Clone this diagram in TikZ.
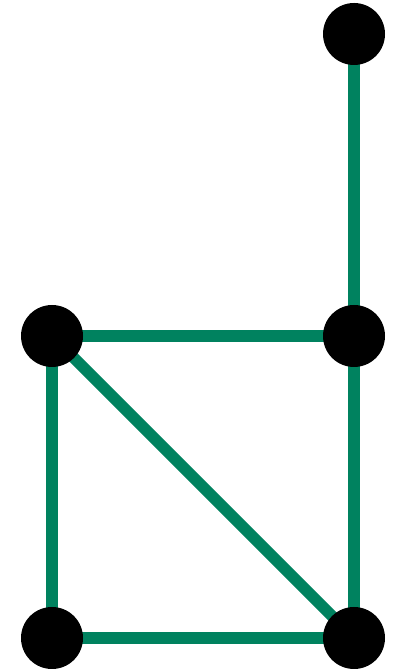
\documentclass[tikz,border=0pt]{standalone}
\usepackage{tikz}
\usepackage{xcolor}
\usetikzlibrary{backgrounds}
\definecolor{edgegreen}{RGB}{0,130,95}

\begin{document}
\begin{tikzpicture}[x=1cm, y=1cm]
\tikzset{
  vertex/.style = {circle, fill=black, inner sep=0pt, minimum size=0.62cm},
  edge/.style   = {edgegreen, line width=0.115cm}
}

% fix the margins
\useasboundingbox (0,0) rectangle (3.98,6.70);

% vertices
\node[vertex] (top) at (3.54, 6.36) {};
\node[vertex] (ul)  at (0.52, 3.34) {};
\node[vertex] (ur)  at (3.54, 3.34) {};
\node[vertex] (ll)  at (0.52, 0.32) {};
\node[vertex] (lr)  at (3.54, 0.32) {};

% edges, behind the vertices
\begin{scope}[on background layer]
\draw[edge] (top.center) -- (ur.center);
\draw[edge] (ul.center) -- (ur.center);
\draw[edge] (ul.center) -- (ll.center);
\draw[edge] (ur.center) -- (lr.center);
\draw[edge] (ll.center) -- (lr.center);
\draw[edge] (ul.center) -- (lr.center);
\end{scope}

\end{tikzpicture}
\end{document}
